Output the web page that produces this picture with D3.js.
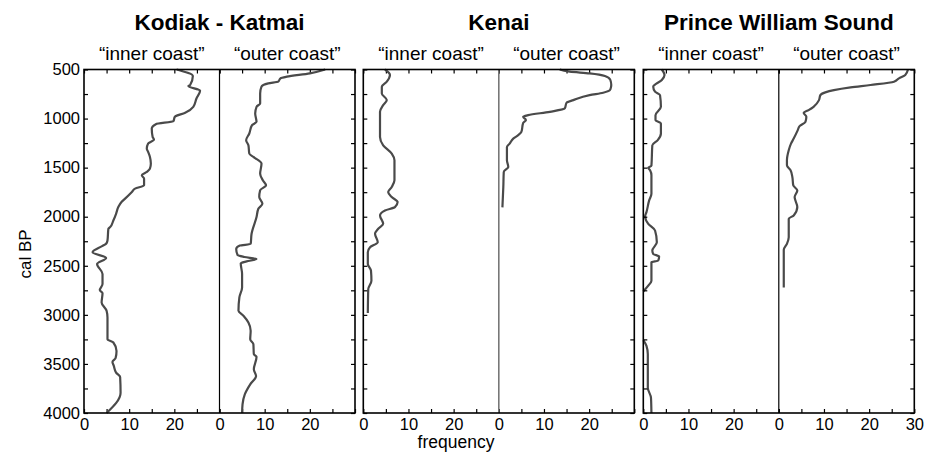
<!DOCTYPE html>
<html><head><meta charset="utf-8">
<script src="https://cdn.jsdelivr.net/npm/d3@7"></script>
<style>body{margin:0;background:#fff}svg{display:block;font-family:"Liberation Sans",Arial,sans-serif}</style>
</head><body><svg id="c" width="925" height="454"></svg>
<script>
const regions = ["Kodiak - Katmai", "Kenai", "Prince William Sound"];
const halves = ["\u201cinner coast\u201d", "\u201couter coast\u201d"];
const yTicks = [500,1000,1500,2000,2500,3000,3500,4000];
const xTickLabels = [0,10,20];

const kodiakInner = [[500,20.5],[566,24.1],[658,23.5],[669,23.1],[716,25.7],[795,24.9],[880,24.2],[941,22.4],[982,20.1],[1026,19.8],[1057,15.9],[1101,15.0],[1187,15.2],[1214,15.5],[1255,14.2],[1306,13.9],[1340,14.2],[1391,14.6],[1459,14.8],[1510,14.6],[1544,13.9],[1578,12.8],[1612,13.3],[1680,13.3],[1714,11.3],[1748,10.6],[1816,9.1],[1850,8.3],[1901,7.6],[1970,7.1],[2038,6.5],[2106,5.8],[2123,5.4],[2242,5.2],[2276,4.9],[2300,4.0],[2362,1.9],[2420,4.9],[2481,2.9],[2583,4.1],[2686,4.1],[2747,3.5],[2781,4.1],[2873,3.9],[2958,5.0],[3026,5.2],[3248,5.2],[3282,6.5],[3367,7.2],[3440,7.0],[3480,6.3],[3520,6.6],[3589,7.1],[3633,8.0],[3793,8.1],[4000,5.0]];
const kodiakOuter = [[500,23.4],[539,20.0],[573,14.9],[590,13.5],[624,13.0],[641,10.8],[675,9.3],[744,9.0],[846,9.0],[880,8.2],[948,7.9],[1033,8.2],[1067,7.2],[1152,6.6],[1220,5.9],[1272,6.4],[1357,6.6],[1391,7.5],[1459,9.3],[1561,9.0],[1629,9.6],[1680,10.3],[1731,9.0],[1800,8.8],[1868,9.5],[1919,8.6],[2004,8.2],[2174,7.1],[2277,6.9],[2294,4.5],[2328,3.7],[2390,4.0],[2410,5.5],[2432,8.2],[2455,6.0],[2475,4.7],[2583,5.0],[2720,5.0],[2822,4.4],[2958,4.2],[3009,5.3],[3078,6.4],[3163,6.9],[3248,6.8],[3299,7.5],[3401,7.6],[3428,8.2],[3555,7.6],[3623,8.1],[3708,6.8],[3810,5.6],[3912,5.1],[4000,5.0]];
const kenaiInner = [[500,4.8],[556,5.9],[624,5.2],[675,4.1],[744,4.1],[812,5.2],[863,4.4],[931,3.7],[1187,3.7],[1272,4.4],[1357,6.3],[1425,6.9],[1629,6.9],[1697,6.3],[1749,5.5],[1800,6.3],[1851,7.6],[1902,7.0],[1936,4.8],[1987,3.7],[2072,4.4],[2123,3.3],[2174,2.6],[2260,3.2],[2311,1.5],[2362,1.0],[2481,1.0],[2549,1.7],[2652,1.8],[2737,1.1],[2980,1.0]];
const kenaiOuter = [[500,13.5],[522,15.7],[539,20.1],[566,23.5],[607,24.7],[658,24.9],[703,24.7],[737,23.1],[761,20.1],[812,16.5],[839,15.0],[897,14.6],[931,11.3],[965,6.5],[982,5.4],[1016,6.0],[1043,5.4],[1135,5.0],[1169,4.3],[1204,3.2],[1255,2.4],[1289,1.8],[1425,1.8],[1493,2.1],[1544,1.1],[1698,1.0],[1905,0.8]];
const pwsInner = [[500,4.1],[556,4.7],[607,4.1],[675,2.2],[726,2.6],[761,3.7],[880,3.9],[965,2.7],[1016,2.7],[1050,3.9],[1152,3.9],[1220,3.2],[1272,2.0],[1480,1.8],[1500,1.1],[1527,1.5],[1578,1.8],[1766,1.8],[1834,1.3],[1953,0.7],[1997,0.4],[2072,1.1],[2140,2.6],[2260,3.0],[2345,2.0],[2379,2.2],[2406,3.5],[2447,3.3],[2464,1.8],[2652,1.8],[2703,1.1],[2761,0],[2800,null],[3258,0],[3316,0.7],[3401,1.0],[3742,1.0],[3844,1.7],[4000,1.8]];
const pwsOuter = [[500,28.6],[556,28.0],[590,26.6],[624,25.5],[658,20.3],[682,15.9],[710,12.2],[733,10.3],[761,9.2],[812,8.9],[880,7.7],[914,6.6],[941,5.5],[982,6.1],[1033,5.9],[1077,4.6],[1118,4.2],[1204,3.3],[1255,2.7],[1323,2.2],[1425,1.8],[1476,1.8],[1527,2.6],[1595,3.0],[1680,3.2],[1732,4.1],[1800,3.5],[1902,4.1],[1987,3.3],[2021,2.2],[2208,2.2],[2276,1.8],[2337,1.1],[2396,1.1],[2720,1.1]];

const series = [[kodiakInner, kodiakOuter],[kenaiInner, kenaiOuter],[pwsInner, pwsOuter]];

const svg = d3.select("#c");
const yTop = 69.5, yBottom = 413;
const panelLeft = [84, 363.3, 643.3], panelW = 271, halfW = panelW/2;
const y = d3.scaleLinear().domain([500,4000]).range([yTop,yBottom]);
const minorY = d3.range(500,4001,250);
const xt = d3.range(0,31,5);
const FONT = '"Liberation Sans",Arial,sans-serif';

const line = (xs) => d3.line().defined(d => d[1] != null).x(d => xs(d[1])).y(d => y(d[0])).curve(d3.curveMonotoneY);

regions.forEach((name, p) => {
  const x0 = panelLeft[p];
  const g = svg.append("g");
  g.append("text").attr("x", x0 + halfW).attr("y", 30).attr("text-anchor","middle")
    .attr("font-size", 22.5).attr("font-weight","bold").text(name);
  halves.forEach((h, k) => {
    const xs = d3.scaleLinear().domain([0,30]).range([x0 + k*halfW, x0 + (k+1)*halfW]);
    g.append("text").attr("x", x0 + k*halfW + halfW/2).attr("y", 60).attr("text-anchor","middle")
      .attr("font-size", 19).text(h);
    const ta = g.append("g").attr("transform",`translate(0,${yTop})`)
      .call(d3.axisTop(xs).tickValues(xt).tickSize(-4).tickFormat(""));
    ta.select(".domain").remove();
    const last = (p === 2 && k === 1);
    const ba = g.append("g").attr("transform",`translate(0,${yBottom})`)
      .call(d3.axisBottom(xs).tickValues(xt).tickSize(-4).tickPadding(5)
        .tickFormat(d => (xTickLabels.includes(d) || (last && d === 30)) ? d : ""));
    ba.select(".domain").remove();
    ba.selectAll("text").attr("font-size", 16.5).attr("font-family",FONT).attr("fill","#000");
    g.append("path").datum(series[p][k]).attr("fill","none").attr("stroke","#4a4a4a")
      .attr("stroke-width",2.2).attr("stroke-linejoin","round").attr("d", line(xs));
  });
  const la = g.append("g").attr("transform",`translate(${x0},0)`)
    .call(d3.axisLeft(y).tickValues(minorY).tickSize(-4).tickPadding(4)
      .tickFormat(d => (p === 0 && yTicks.includes(d)) ? d : ""));
  la.select(".domain").remove();
  la.selectAll("text").attr("font-size", 16.5).attr("font-family",FONT).attr("fill","#000");
  const ra = g.append("g").attr("transform",`translate(${x0+panelW},0)`)
    .call(d3.axisRight(y).tickValues(minorY).tickSize(-4).tickFormat(""));
  ra.select(".domain").remove();
  g.selectAll(".tick line").attr("stroke","#000").attr("stroke-width",1.2);
  g.append("line").attr("x1", x0+halfW).attr("x2", x0+halfW).attr("y1", yTop).attr("y2", yBottom)
    .attr("stroke", p === 1 ? "#777" : "#000").attr("stroke-width", p === 1 ? 1.6 : 1.2);
  g.append("rect").attr("x", x0).attr("y", yTop).attr("width", panelW).attr("height", yBottom-yTop)
    .attr("fill","none").attr("stroke","#000").attr("stroke-width",1.6);
});

svg.append("text").attr("transform","translate(31,254) rotate(-90)").attr("text-anchor","middle")
  .attr("font-size", 17).text("cal BP");
svg.append("text").attr("x", 456).attr("y", 448).attr("text-anchor","middle")
  .attr("font-size", 17.5).text("frequency");
</script></body></html>
